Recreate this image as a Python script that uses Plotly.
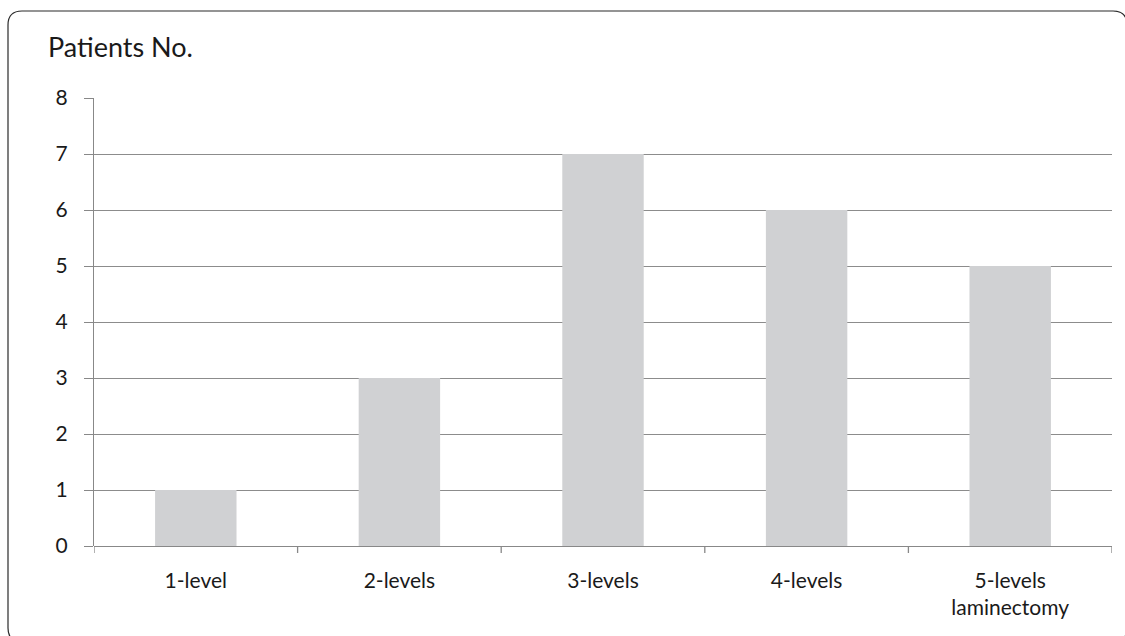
import plotly.graph_objects as go

categories = ["1-level", "2-levels", "3-levels", "4-levels", "5-levels<br>laminectomy"]
patients = [1, 3, 7, 6, 5]
y_ticks = [0, 1, 2, 3, 4, 5, 6, 7, 8]
y_title = "Patients No."

W, H = 1125, 636
L, R, T, B = 94, 1112, 98, 546
pw, ph = R - L, B - T

def px(x):
    return (x - L) / pw

def py(y):
    return (B - y) / ph

fig = go.Figure()
fig.add_trace(go.Bar(
    x=list(range(len(categories))), y=patients,
    marker=dict(color="#d0d1d3", line=dict(width=0)),
    width=0.4, hoverinfo="skip",
))

# rounded border
x0, x1, y0, y1, r = 8, 1127, 11, 642, 14
path = (f"M {px(x0+r)},{py(y0)} L {px(x1-r)},{py(y0)} "
        f"Q {px(x1)},{py(y0)} {px(x1)},{py(y0+r)} L {px(x1)},{py(y1-r)} "
        f"Q {px(x1)},{py(y1)} {px(x1-r)},{py(y1)} L {px(x0+r)},{py(y1)} "
        f"Q {px(x0)},{py(y1)} {px(x0)},{py(y1-r)} L {px(x0)},{py(y0+r)} "
        f"Q {px(x0)},{py(y0)} {px(x0+r)},{py(y0)} Z")
fig.add_shape(type="path", path=path, xref="paper", yref="paper",
              line=dict(color="#2a2a2a", width=1.2), layer="below")

# category boundary ticks
for i in range(len(categories) + 1):
    fig.add_shape(type="line", xref="x", yref="paper", x0=i - 0.5, x1=i - 0.5,
                  y0=0, y1=-7 / ph, line=dict(color="#888888", width=1.3))

fig.add_annotation(text=y_title, xref="paper", yref="paper",
                   x=px(46), y=py(47), xanchor="left", yanchor="middle",
                   showarrow=False, font=dict(size=27, color="#1a1a1a"))

fig.update_layout(
    width=W, height=H,
    margin=dict(l=L, r=W - R, t=T, b=H - B, pad=0),
    paper_bgcolor="white", plot_bgcolor="white",
    font=dict(family="Lato, sans-serif", size=21, color="#1a1a1a"),
    showlegend=False, bargap=0.6,
    xaxis=dict(
        range=[-0.5, len(categories) - 0.5],
        tickmode="array", tickvals=list(range(len(categories))), ticktext=categories,
        ticks="", showgrid=False, zeroline=False,
        showline=False, fixedrange=True, ticklabelstandoff=20,
    ),
    yaxis=dict(
        range=[0, 8], tickmode="array", tickvals=y_ticks,
        ticks="outside", ticklen=9, tickcolor="#888888", tickwidth=1.3,
        showgrid=True, gridcolor="#8c8c8c", gridwidth=1.3,
        showline=True, linecolor="#888888", linewidth=1.3,
        zeroline=True, zerolinecolor="#888888", zerolinewidth=1.3,
        fixedrange=True, ticklabelstandoff=12,
    ),
)

fig.write_html("out.html")
